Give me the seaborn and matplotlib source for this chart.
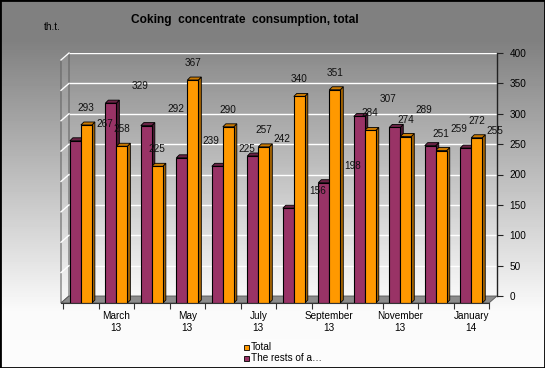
import numpy as np
import pandas as pd
import matplotlib
matplotlib.use("Agg")
import matplotlib.pyplot as plt
from matplotlib.patches import Polygon, Rectangle
import seaborn as sns

# --- DATOS ---
months = ["Feb 13", "Mar 13", "Apr 13", "May 13", "Jun 13", "Jul 13",
          "Aug 13", "Sep 13", "Oct 13", "Nov 13", "Dec 13", "Jan 14"]
total = [293, 258, 225, 367, 290, 257, 340, 351, 284, 274, 251, 272]
rests = [267, 329, 292, 239, 225, 242, 156, 198, 307, 289, 259, 255]
tick_labels = ["", "March\n13", "", "May\n13", "", "July\n13", "",
               "September\n13", "", "November\n13", "", "January\n14"]
y_ticks = [0, 50, 100, 150, 200, 250, 300, 350, 400]

name_total = "Total"
name_rests = "The rests of a\u2026"
orange = "#FF9900"
purple = "#993366"

df = pd.DataFrame({
    "month": months * 2,
    "value": rests + total,
    "series": [name_rests] * len(months) + [name_total] * len(months),
})

plt.rcParams["font.family"] = ["Liberation Sans", "DejaVu Sans"]

# --- FIGURA (coordenadas en pixeles desde arriba-izquierda) ---
W, H = 545, 368
fig = plt.figure(figsize=(W / 100, H / 100), dpi=100)


def fx(x):
    return x / W


def fy(y):
    return 1 - y / H


# fondo degradado gris -> blanco
bg = fig.add_axes([0, 0, 1, 1], zorder=-10)
rows = np.arange(H)
grad = np.interp(rows, [0, 40, 310, H], [128, 128, 250, 252]).reshape(-1, 1)
bg.imshow(grad, cmap="gray", vmin=0, vmax=255, aspect="auto", extent=[0, 1, 0, 1])
bg.axis("off")

# pared del fondo (back wall) con rejilla y eje derecho
bx0, bx1, by0, by1 = 69, 497, 53, 296
wall = fig.add_axes([fx(bx0), fy(by1), (bx1 - bx0) / W, (by1 - by0) / H])
wgrad = np.interp(np.arange(100), [0, 99], [140, 248]).reshape(-1, 1)
wall.imshow(wgrad, cmap="gray", vmin=0, vmax=255, aspect="auto", extent=[0, 1, 0, 400])
wall.set_xlim(0, 1)
wall.set_ylim(0, 400)
for v in y_ticks[1:]:
    wall.axhline(v, color="white", lw=1, zorder=2)
for s in ["left", "top", "bottom"]:
    wall.spines[s].set_visible(False)
wall.spines["right"].set_color("#222222")
wall.spines["right"].set_linewidth(1)
wall.yaxis.tick_right()
wall.set_yticks(y_ticks)
wall.set_xticks([])
wall.tick_params(axis="y", direction="out", length=4, pad=5, labelsize=7.2,
                 colors="#222222", labelcolor="black")

# pared izquierda y suelo (3D)
depth_x, depth_y = -8, 7
scale = (by1 - by0) / 400
left_wall = Polygon([(fx(bx0 + depth_x), fy(by0 + depth_y)), (fx(bx0), fy(by0)),
                     (fx(bx0), fy(by1)), (fx(bx0 + depth_x), fy(by1 + depth_y))],
                    closed=True, facecolor=(1, 1, 1, 0.08), edgecolor="#666666",
                    lw=0.8, transform=fig.transFigure, clip_on=False, zorder=3)
wall.add_patch(left_wall)
for v in y_ticks[1:]:
    yb = by1 - v * scale
    wall.plot([fx(bx0 + depth_x), fx(bx0)], [fy(yb + depth_y), fy(yb)], color="white",
              lw=1, transform=fig.transFigure, clip_on=False, zorder=4)
floor = Polygon([(fx(bx0), fy(by1)), (fx(bx1), fy(by1)),
                 (fx(bx1 + depth_x), fy(by1 + depth_y)), (fx(bx0 + depth_x), fy(by1 + depth_y))],
                closed=True, facecolor="#8c8c8c", edgecolor="#555555", lw=0.6,
                transform=fig.transFigure, clip_on=False, zorder=3)
wall.add_patch(floor)

# --- BARRAS (plano frontal) ---
fx0, fy1 = bx0 + depth_x, by1 + depth_y
front = fig.add_axes([fx(fx0), fy(fy1), (bx1 - bx0) / W, (by1 - by0) / H])
front.patch.set_alpha(0)
sns.barplot(data=df, x="month", y="value", hue="series", hue_order=[name_rests, name_total],
            palette=[purple, orange], saturation=1, width=0.62, edgecolor="black",
            linewidth=0.8, legend=False, ax=front)
front.set_xlim(-0.56, 11.44)
front.set_ylim(0, 400)

dx = 3 / ((bx1 - bx0) / 12)
dy = 3 / scale
face_colors = [("#4d1a33", "#6b2346"), ("#a86500", "#cc7a00")]
for container, (side_c, top_c) in zip(front.containers, face_colors):
    for bar in container:
        x0, w, h = bar.get_x(), bar.get_width(), bar.get_height()
        x1 = x0 + w
        side = Polygon([(x1, 0), (x1 + dx, dy), (x1 + dx, h + dy), (x1, h)], closed=True,
                       facecolor=side_c, edgecolor="black", lw=0.6, zorder=bar.zorder - 0.5)
        top = Polygon([(x0, h), (x0 + dx, h + dy), (x1 + dx, h + dy), (x1, h)], closed=True,
                      facecolor=top_c, edgecolor="black", lw=0.6, zorder=bar.zorder - 0.5)
        front.add_patch(side)
        front.add_patch(top)

# etiquetas de valores (desplazadas como en el original)
for container, shift in zip(front.containers, [0.82, 0.0]):
    for bar in container:
        cx = bar.get_x() + bar.get_width() / 2 + shift
        h = bar.get_height()
        front.text(cx, h + 28, f"{h:.0f}", ha="center", va="center", fontsize=7.2,
                   color="#111111", zorder=10)

for s in ["left", "top", "right"]:
    front.spines[s].set_visible(False)
front.spines["bottom"].set_color("#333333")
front.spines["bottom"].set_linewidth(0.8)
front.set_yticks([])
front.set_xticks(range(len(months)))
front.set_xticklabels(tick_labels)
front.set_xticks(np.arange(-0.5, len(months), 1), minor=True)
front.tick_params(axis="x", which="major", length=0, pad=6, labelsize=7.2)
front.tick_params(axis="x", which="minor", length=4, width=0.8, color="#333333", direction="out")
front.set_xlabel("")
front.set_ylabel("")

# --- TEXTOS ---
fig.text(fx(245), fy(20), "Coking  concentrate  consumption, total", ha="center", va="center",
         fontsize=8.6, fontweight="bold")
fig.text(fx(44), fy(27), "th.t.", ha="left", va="center", fontsize=7.2)

# leyenda manual
fig.add_artist(Rectangle((fx(240), fy(366)), 85 / W, 27 / H, transform=fig.transFigure,
                         facecolor="#fcfcfc", edgecolor="none"))
for yy, col, name in [(347, orange, name_total), (358, purple, name_rests)]:
    fig.add_artist(Rectangle((fx(244), fy(yy + 2.5)), 5 / W, 5 / H, transform=fig.transFigure,
                             facecolor=col, edgecolor="black", lw=0.6))
    fig.text(fx(251), fy(yy), name, ha="left", va="center", fontsize=7.2)

# borde negro
fig.add_artist(Rectangle((0, 0), 1, 1, transform=fig.transFigure, fill=False,
                         edgecolor="black", lw=2))

fig.savefig("out.png", dpi=100)
plt.close(fig)
